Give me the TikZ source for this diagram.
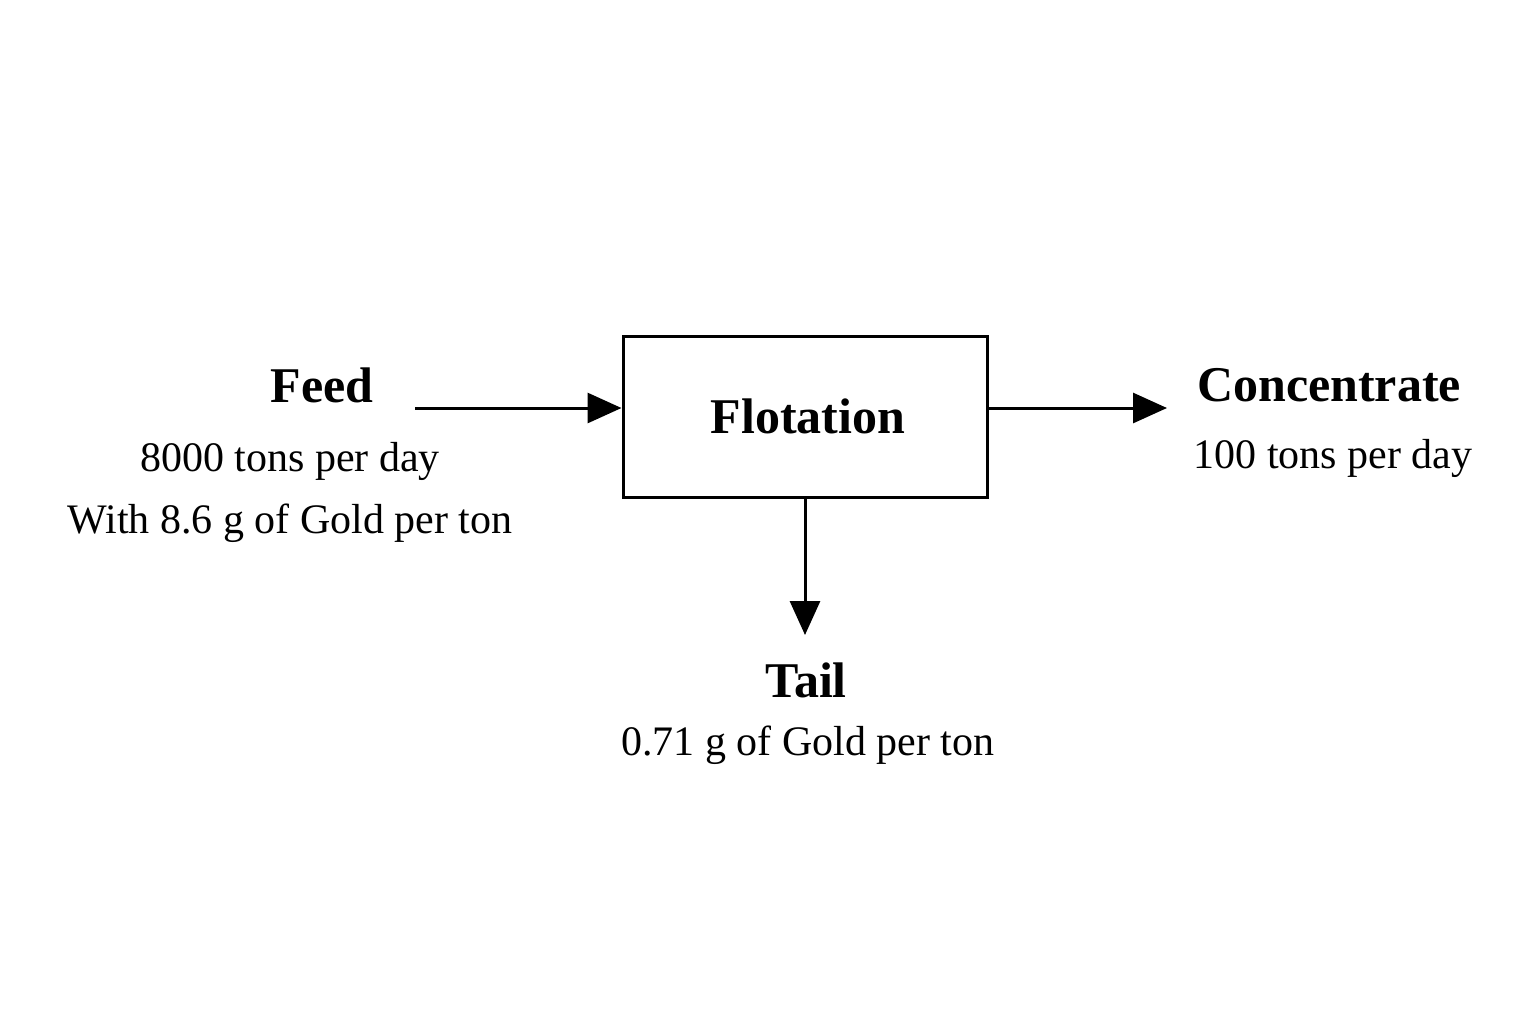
\documentclass[tikz,border=0pt]{standalone}
\usepackage{fontspec}
\setmainfont{Liberation Serif}
\usetikzlibrary{arrows.meta}

\begin{document}
\begin{tikzpicture}[x=0.5pt,y=-0.5pt,
    flow/.style={line width=1.5pt, -{Triangle[length=17pt,width=15pt]}},
    head/.style={font=\fontsize{25}{30}\selectfont\bfseries, inner sep=0pt},
    info/.style={font=\fontsize{21}{32}\selectfont, inner sep=0pt, align=center}]
    \useasboundingbox (0,0) rectangle (1536,1024);
    
    % Unit
    \node (flot) [draw, line width=1.5pt, minimum width=182pt, minimum height=80.5pt, inner sep=0pt] at (805,416.5) {};
    \node [head] at (808,416) {Flotation};
    
    % Stream labels
    \node (feed) [head] at (322,385) {Feed};
    \node (feedinfo) [info] at (290,492) {8000 tons per day\\[-1pt]With 8.6 g of Gold per ton};
    \node (conc) [head] at (1329,385) {Concentrate};
    \node (concinfo) [info] at (1333,458) {100 tons per day};
    \node (tail) [head] at (806,680) {Tail};
    \node (tailinfo) [info] at (808,745) {0.71 g of Gold per ton};
    
    % Streams
    \coordinate (feedin) at (415,408);
    \coordinate (concout) at (1167,408);
    \coordinate (tailout) at (805,635);
    \draw [flow] (feedin) -- (feedin -| flot.west);
    \draw [flow] (flot.east |- concout) -- (concout);
    \draw [flow] (flot.south) -- (tailout);
\end{tikzpicture}
\end{document}
